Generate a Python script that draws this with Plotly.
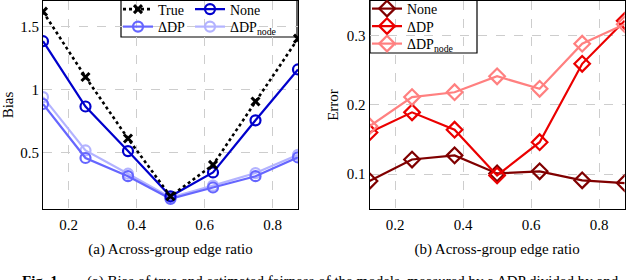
import plotly.graph_objects as go

ratios = [0.125, 0.25, 0.375, 0.5, 0.625, 0.75, 0.875]

# (a) Bias
bias_true = [1.62, 1.10, 0.61, 0.15, 0.40, 0.905, 1.405]
bias_none = [1.385, 0.865, 0.51, 0.15, 0.34, 0.755, 1.16]
bias_dp = [0.885, 0.455, 0.31, 0.13, 0.22, 0.31, 0.46]
bias_dp_node = [0.94, 0.515, 0.33, 0.14, 0.235, 0.335, 0.48]

# (b) Error
err_none = [0.090, 0.121, 0.127, 0.101, 0.104, 0.091, 0.087]
err_dp = [0.160, 0.189, 0.164, 0.098, 0.146, 0.259, 0.321]
err_dp_node = [0.169, 0.211, 0.218, 0.241, 0.223, 0.288, 0.316]

x_ticks = [0.2, 0.4, 0.6, 0.8]
x_tick_labels = ["0.2", "0.4", "0.6", "0.8"]
bias_ticks = [0.5, 1.0, 1.5]
bias_tick_labels = ["0.5", "1", "1.5"]
err_ticks = [0.1, 0.2, 0.3]
err_tick_labels = ["0.1", "0.2", "0.3"]

W, H = 640, 280
FONT = "Liberation Serif, DejaVu Serif, Times New Roman, serif"

def px_x(p):
    return p / W

def px_y(p):
    return 1 - p / H

BLUE_DARK = "rgb(0,0,204)"
BLUE_MID = "rgb(102,102,255)"
BLUE_LIGHT = "rgb(179,179,255)"
RED_DARK = "rgb(128,0,0)"
RED = "rgb(235,0,0)"
RED_LIGHT = "rgb(255,128,128)"

fig = go.Figure()

circ = dict(symbol="circle-open", size=10, line=dict(width=2.2))
fig.add_trace(go.Scatter(x=ratios, y=bias_dp_node, name="ΔDP<sub>node</sub>", mode="lines+markers",
                         line=dict(color=BLUE_LIGHT, width=2.2), marker=dict(color=BLUE_LIGHT, **circ),
                         xaxis="x", yaxis="y", legend="legend4"))
fig.add_trace(go.Scatter(x=ratios, y=bias_dp, name="ΔDP", mode="lines+markers",
                         line=dict(color=BLUE_MID, width=2.2), marker=dict(color=BLUE_MID, **circ),
                         xaxis="x", yaxis="y", legend="legend3"))
fig.add_trace(go.Scatter(x=ratios, y=bias_none, name="None", mode="lines+markers",
                         line=dict(color=BLUE_DARK, width=2.2), marker=dict(color=BLUE_DARK, **circ),
                         xaxis="x", yaxis="y", legend="legend2"))
fig.add_trace(go.Scatter(x=ratios, y=bias_true, name="True", mode="lines+markers",
                         line=dict(color="black", width=2.6, dash="dot"),
                         marker=dict(symbol="x-thin", size=8, color="black", line=dict(width=3, color="black")),
                         xaxis="x", yaxis="y", legend="legend"))

dia = dict(symbol="diamond-open", size=12, line=dict(width=2.2))
fig.add_trace(go.Scatter(x=ratios, y=err_none, name="None", mode="lines+markers",
                         line=dict(color=RED_DARK, width=2.2), marker=dict(color=RED_DARK, **dia),
                         xaxis="x2", yaxis="y2", legend="legend5"))
fig.add_trace(go.Scatter(x=ratios, y=err_dp, name="ΔDP", mode="lines+markers",
                         line=dict(color=RED, width=2.2), marker=dict(color=RED, **dia),
                         xaxis="x2", yaxis="y2", legend="legend6"))
fig.add_trace(go.Scatter(x=ratios, y=err_dp_node, name="ΔDP<sub>node</sub>", mode="lines+markers",
                         line=dict(color=RED_LIGHT, width=2.2), marker=dict(color=RED_LIGHT, **dia),
                         xaxis="x2", yaxis="y2", legend="legend7"))

tickfont = dict(family=FONT, size=15, color="black")
titlefont = dict(family=FONT, size=15, color="black")
grid = dict(showgrid=True, gridcolor="rgb(205,205,205)", griddash="dash", gridwidth=1,
            showline=True, linecolor="black", linewidth=1.2, mirror=True, zeroline=False,
            ticks="", tickfont=tickfont, automargin=False)

def leg(xp, yp):
    return dict(x=px_x(xp), y=px_y(yp), xanchor="left", yanchor="middle", orientation="v",
                bgcolor="rgba(0,0,0,0)", borderwidth=0, itemwidth=30,
                font=dict(family=FONT, size=14, color="black"))

ydom = [px_y(209), px_y(1)]
capfont = dict(family=FONT, size=15, color="black")
fig.update_layout(
    width=W, height=H, margin=dict(l=0, r=0, t=0, b=0, autoexpand=False),
    paper_bgcolor="white", plot_bgcolor="white",
    showlegend=True,
    xaxis=dict(domain=[px_x(43), px_x(298)], range=[0.125, 0.875], tickvals=x_ticks,
               ticktext=x_tick_labels, ticklabelstandoff=2,
               title=dict(text="(a) Across-group edge ratio", font=titlefont, standoff=11),
               anchor="y", **grid),
    yaxis=dict(domain=ydom, range=[0.049, 1.705], tickvals=bias_ticks, ticktext=bias_tick_labels,
               title=dict(text="Bias", font=titlefont, standoff=4), anchor="x", **grid),
    xaxis2=dict(domain=[px_x(369.5), px_x(624.7)], range=[0.125, 0.875], tickvals=x_ticks,
                ticktext=x_tick_labels, ticklabelstandoff=2,
                title=dict(text="(b) Across-group edge ratio", font=titlefont, standoff=11),
                anchor="y2", **grid),
    yaxis2=dict(domain=ydom, range=[0.0497, 0.3495], tickvals=err_ticks, ticktext=err_tick_labels,
                title=dict(text="Error", font=titlefont, standoff=4), anchor="x2", **grid),
    legend=leg(118, 9.5),
    legend2=leg(190, 9.5),
    legend3=leg(118, 27),
    legend4=leg(190, 27),
    legend5=leg(367, 9),
    legend6=leg(367, 26.5),
    legend7=leg(367, 44),
    shapes=[dict(type="rect", xref="paper", yref="paper", x0=px_x(121), x1=px_x(297),
                 y0=px_y(37), y1=px_y(0.5), line=dict(color="black", width=1.2),
                 fillcolor="white", layer="between"),
            dict(type="rect", xref="paper", yref="paper", x0=px_x(370), x1=px_x(477),
                 y0=px_y(53), y1=px_y(0.5), line=dict(color="black", width=1.2),
                 fillcolor="white", layer="between")],
    annotations=[
        dict(text="<b>Fig. 1.</b>", x=px_x(20), y=px_y(271), xref="paper", yref="paper",
             xanchor="left", yanchor="top", showarrow=False, font=capfont),
        dict(text="(a) Bias of true and estimated fairness of the models, measured by a",
             x=px_x(85), y=px_y(271), xref="paper", yref="paper",
             xanchor="left", yanchor="top", showarrow=False, font=capfont),
        dict(text="ΔDP divided by and",
             x=px_x(495), y=px_y(271), xref="paper", yref="paper",
             xanchor="left", yanchor="top", showarrow=False, font=capfont),
    ],
)

fig.write_html("out.html", config={"displayModeBar": False},
               post_script="document.body.style.margin='0';document.body.style.overflow='hidden';")
